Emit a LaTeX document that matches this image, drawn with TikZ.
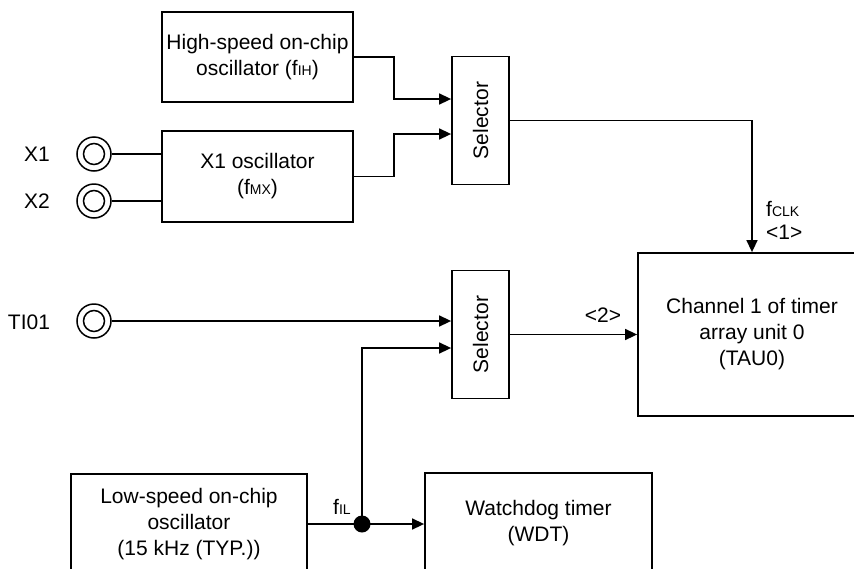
\documentclass[tikz,border=0pt]{standalone}
\usepackage{fontspec}
\setmainfont{Liberation Sans}
\usetikzlibrary{arrows.meta}

% 小号下标字母
\newcommand{\subtxt}[1]{{\fontsize{14}{14}\selectfont #1}}

\begin{document}
\fontsize{21}{26}\selectfont
\begin{tikzpicture}[
    x=1pt, y=-1pt,
    % 方框样式
    box/.style={draw, line width=1.8pt, align=center, inner sep=0pt},
    % 选择器样式（竖长方框）
    selbox/.style={draw, line width=1.8pt, minimum width=57pt, minimum height=128pt, inner sep=0pt},
    % 引脚样式（双圆）
    pin/.style={circle, draw, line width=1.5pt, minimum size=34pt, inner sep=0pt,
        path picture={\draw[line width=1.5pt] (path picture bounding box.center) circle (10.5pt);}},
    % 信号线样式
    sig/.style={line width=1.5pt},
    % 带箭头信号线
    arr/.style={sig, -{Triangle[length=12pt, width=11pt]}},
    % 分支点
    jdot/.style={circle, fill, minimum size=17pt, inner sep=0pt},
    % 文字
    txt/.style={inner sep=0pt}
]

    % 1. 画面范围（下边和右边的方框被裁掉）
    \clip (0,0) rectangle (854,568);

    % 2. 时钟源方框
    \node[box, minimum width=191pt, minimum height=90pt] (hso) at (257.5,57)
        {High-speed on-chip\\oscillator (f\subtxt{IH})};
    \node[box, minimum width=191pt, minimum height=91pt] (x1osc) at (257.5,176.5)
        {X1 oscillator\\(f\subtxt{MX})};
    \node[box, minimum width=236pt, minimum height=100pt] (lso) at (189,524)
        {Low-speed on-chip\\oscillator\\(15 kHz (TYP.))};

    % 3. 选择器
    \node[selbox] (sel1) at (480.5,120.5) {\rotatebox{90}{Selector}};
    \node[selbox] (sel2) at (480.5,334.5) {\rotatebox{90}{Selector}};

    % 4. 定时器与看门狗
    \node[box, minimum width=228pt, minimum height=163pt] (tau) at (752,334.5)
        {Channel 1 of timer\\array unit 0\\(TAU0)};
    \node[box, minimum width=227pt, minimum height=100pt] (wdt) at (538.5,523)
        {Watchdog timer\\(WDT)};

    % 5. 引脚及其名称
    \node[pin] (x1pin) at (94,154) {};
    \node[pin] (x2pin) at (94,201) {};
    \node[pin] (tipin) at (94,321) {};
    \node[txt] (x1name) at (37,154) {X1};
    \node[txt] (x2name) at (37,201) {X2};
    \node[txt] (tiname) at (29,322) {TI01};

    % 6. 分支点
    \node[jdot] (fil) at (362,524) {};

    % 7. 连线
    \draw[sig] (x1pin.east) -- (x1osc.west |- x1pin.east);
    \draw[sig] (x2pin.east) -- (x1osc.west |- x2pin.east);
    \draw[arr] (hso.east) -- ++(40,0) |- ([yshift=21.5pt]sel1.west);
    \draw[arr] (x1osc.east) -- ++(40,0) |- ([yshift=-13.5pt]sel1.west);
    \draw[arr] (sel1.east) -| (tau.north);
    \draw[arr] (tipin.east) -- ([yshift=13.5pt]sel2.west);
    \draw[arr] (fil.center) |- ([yshift=-13.5pt]sel2.west);
    \draw[arr] (sel2.east) -- (tau.west);
    \draw[sig] (lso.east) -- (fil.center);
    \draw[arr] (fil.center) -- (wdt.west |- fil.center);

    % 8. 信号名称
    \node[txt, anchor=west] (fclk) at (766,209) {f\subtxt{CLK}};
    \node[txt, anchor=west] (one) at (766,232) {<1>};
    \node[txt] (two) at (603,315) {<2>};
    \node[txt] (filname) at (342,507) {f\subtxt{IL}};

\end{tikzpicture}
\end{document}
